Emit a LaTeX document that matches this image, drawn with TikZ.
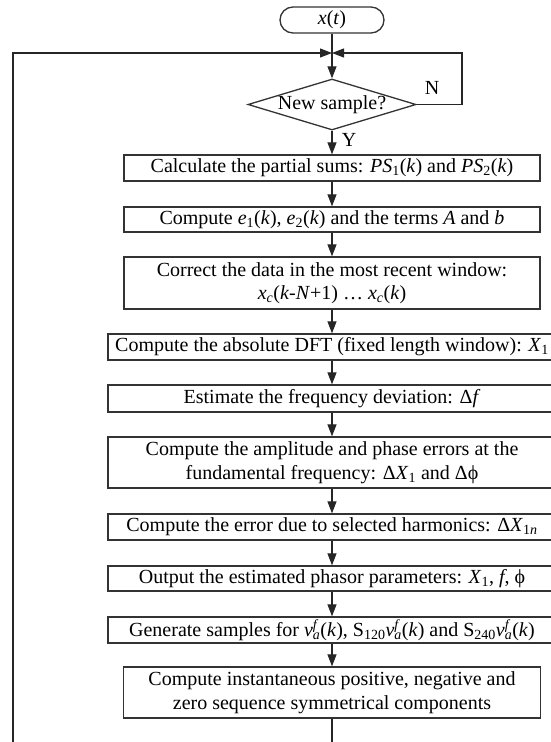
\documentclass[tikz,border=0pt]{standalone}
\usepackage{fontspec}
\setmainfont{Liberation Serif}
\usetikzlibrary{arrows.meta,shapes.geometric}
\newcommand{\vaf}{\textit{v}\rlap{\textsuperscript{\textit{f}}}\textsubscript{\textit{a}}}
\begin{document}
\begin{tikzpicture}
[x=1pt,y=-1pt,
 font=\fontsize{20}{23.5}\selectfont,
 stagebox/.style={draw=black!80,line width=1.3pt,inner sep=0pt,align=center},
 flowarrow/.style={draw=black!85,line width=1.2pt,-{Triangle[length=12pt,width=9pt]}}]
\useasboundingbox (0,0) rectangle (551,742);
%% start, decision and loop points
\node[stagebox,rounded corners=13pt,minimum width=104pt,minimum height=26pt] (xt) at (332,20) {\textit{x}(\textit{t})};
\coordinate (join) at (332,53);
\node[stagebox,shape=diamond,shape aspect=3.3,minimum width=168pt,minimum height=51pt] (dec) at (332,104.5) {New sample?};
\node (nlab) at (432,88) {N};
\node (ylab) at (349,140) {Y};
%% processing steps
\node[stagebox,minimum width=416pt,minimum height=26pt] (b1) at (332,168) {Calculate the partial sums: \textit{PS}\textsubscript{1}(\textit{k}) and \textit{PS}\textsubscript{2}(\textit{k})};
\node[stagebox,minimum width=416pt,minimum height=25pt] (b2) at (332,219.5) {Compute \textit{e}\textsubscript{1}(\textit{k}), \textit{e}\textsubscript{2}(\textit{k}) and the terms \textit{A} and \textit{b}};
\node[stagebox,minimum width=416pt,minimum height=52pt] (b3) at (332,283) {Correct the data in the most recent window:\\ \textit{x}\textsubscript{\textit{c}}(\textit{k}-\textit{N}+1) … \textit{x}\textsubscript{\textit{c}}(\textit{k})};
\node[stagebox,minimum width=448pt,minimum height=26pt] (b4) at (332,347) {Compute the absolute DFT (fixed length window): \textit{X}\textsubscript{1}};
\node[stagebox,minimum width=448pt,minimum height=27pt] (b5) at (332,398.5) {Estimate the frequency deviation: Δ\textit{f}};
\node[stagebox,minimum width=448pt,minimum height=51pt] (b6) at (332,462.5) {Compute the amplitude and phase errors at the\\ fundamental frequency: Δ\textit{X}\textsubscript{1} and Δϕ};
\node[stagebox,minimum width=448pt,minimum height=26pt] (b7) at (332,527) {Compute the error due to selected harmonics: Δ\textit{X}\textsubscript{1\textit{n}}};
\node[stagebox,minimum width=448pt,minimum height=25pt] (b8) at (332,578.5) {Output the estimated phasor parameters: \textit{X}\textsubscript{1}, \textit{f}, ϕ};
\node[stagebox,minimum width=448pt,minimum height=26pt] (b9) at (332,630) {Generate samples for \vaf(\textit{k}), S\textsubscript{120}\vaf(\textit{k}) and S\textsubscript{240}\vaf(\textit{k})};
\node[stagebox,minimum width=417pt,minimum height=51pt] (b10) at (332,692.5) {Compute instantaneous positive, negative and\\ zero sequence symmetrical components};
%% connectors
\draw[flowarrow] (xt) -- (dec);
\draw[flowarrow] (dec.east) -| (462,53) -- (join);
\draw[flowarrow] (b10.south) -- (332,770) -| (13,53) -- (join);
\foreach \a/\b in {dec/b1,b1/b2,b2/b3,b3/b4,b4/b5,b5/b6,b6/b7,b7/b8,b8/b9,b9/b10}
  \draw[flowarrow] (\a) -- (\b);
\end{tikzpicture}
\end{document}
